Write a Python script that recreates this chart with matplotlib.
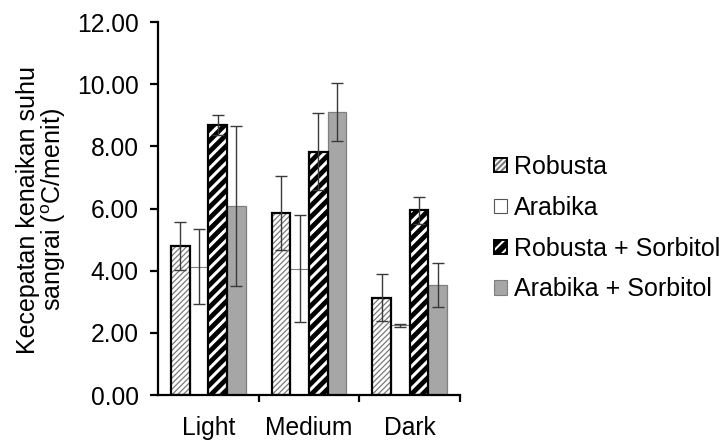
import matplotlib
matplotlib.use('Agg')
import matplotlib.pyplot as plt
from matplotlib.patches import Patch
import numpy as np

categories = ['Light', 'Medium', 'Dark']
series = ['Robusta', 'Arabika', 'Robusta + Sorbitol', 'Arabika + Sorbitol']
robusta = [4.80, 5.85, 3.13]
robusta_err = [0.77, 1.18, 0.75]
arabika = [4.13, 4.06, 2.25]
arabika_err = [1.20, 1.72, 0.05]
robusta_sorb = [8.69, 7.83, 5.94]
robusta_sorb_err = [0.33, 1.23, 0.44]
arabika_sorb = [6.09, 9.11, 3.54]
arabika_sorb_err = [2.57, 0.94, 0.72]
yticks = [0, 2, 4, 6, 8, 10, 12]

plt.rcParams['font.family'] = ['Liberation Sans', 'DejaVu Sans']
plt.rcParams['mathtext.default'] = 'regular'
FS = 18
TFS = 17.7

fig = plt.figure(figsize=(7.23, 4.40), dpi=100)
ax = fig.add_axes([158/723, 1-395/440, 302/723, (395-22)/440])

x = np.arange(len(categories))
w = 0.185
offs = [-1.5*w, -0.5*w, 0.5*w, 1.5*w]


def hlw(p, lw):
    if hasattr(p, 'set_hatch_linewidth'):
        p.set_hatch_linewidth(lw)

# Robusta: white with fine grey hatch, black border
with plt.rc_context({'hatch.linewidth': 0.9}):
    b = ax.bar(x+offs[0], robusta, w, color='white', edgecolor='#7a7a7a', hatch='//////', lw=0, zorder=2)
    for p in b:
        hlw(p, 0.9)
ax.bar(x+offs[0], robusta, w, facecolor='none', edgecolor='black', lw=1.6, zorder=3)

# Arabika: white
ax.bar(x+offs[1], arabika, w, color='white', edgecolor='#7f7f7f', lw=0.8, zorder=2)

# Robusta + Sorbitol: black with white stripes
with plt.rc_context({'hatch.linewidth': 2.2}):
    b = ax.bar(x+offs[2], robusta_sorb, w, color='black', edgecolor='white', hatch='///', lw=0, zorder=2)
    for p in b:
        hlw(p, 2.2)
ax.bar(x+offs[2], robusta_sorb, w, facecolor='none', edgecolor='black', lw=1.6, zorder=3)

# Arabika + Sorbitol: grey
ax.bar(x+offs[3], arabika_sorb, w, color='#a6a6a6', edgecolor='#7f7f7f', lw=0.9, zorder=2)

ek = dict(fmt='none', ecolor='#3a3a3a', elinewidth=1.0, capsize=4.3, capthick=1.0, zorder=5)
for o, v, e in zip(offs, [robusta, arabika, robusta_sorb, arabika_sorb],
                   [robusta_err, arabika_err, robusta_sorb_err, arabika_sorb_err]):
    ax.errorbar(x+o, v, yerr=e, **ek)

ax.set_xlim(-0.5, 2.5)
ax.set_ylim(0, 12)
ax.set_yticks(yticks)
ax.set_yticklabels([f'{t:.2f}' for t in yticks])
ax.set_xticks(x)
ax.set_xticklabels(categories)
ax.set_xticks([0.5, 1.5, 2.5], minor=True)
ax.tick_params(axis='x', which='major', length=0, pad=15, labelsize=TFS)
ax.tick_params(axis='x', which='minor', length=5, width=1.6, direction='out')
ax.tick_params(axis='y', length=6, width=1.6, direction='out', pad=8, labelsize=TFS)
for s in ['top', 'right']:
    ax.spines[s].set_visible(False)
for s in ['left', 'bottom']:
    ax.spines[s].set_linewidth(1.6)

fig.text(42/723, 1-209.5/440, 'Kecepatan kenaikan suhu\nsangrai ($^{o}$C/menit)',
         rotation=90, ha='center', va='center', fontsize=FS, linespacing=1.0,
         multialignment='center')

# legend handles
with plt.rc_context({'hatch.linewidth': 0.9}):
    h1 = (Patch(facecolor='white', edgecolor='#7a7a7a', hatch='//////', lw=0),
          Patch(facecolor='none', edgecolor='black', lw=1.4))
with plt.rc_context({'hatch.linewidth': 2.0}):
    h3 = (Patch(facecolor='black', edgecolor='white', hatch='///', lw=0),
          Patch(facecolor='none', edgecolor='black', lw=1.4))
h2 = Patch(facecolor='white', edgecolor='#555555', lw=0.8)
h4 = Patch(facecolor='#a6a6a6', edgecolor='#7f7f7f', lw=0.8)
with plt.rc_context({'hatch.linewidth': 1.5}):
    fig.legend([h1, h2, h3, h4], series, loc='upper left',
               bbox_to_anchor=(494/723, 1-155/440), frameon=False, fontsize=FS,
               handlelength=0.5, handleheight=0.5, handletextpad=0.3,
               labelspacing=0.67, borderpad=0, borderaxespad=0)

fig.savefig('out.png', dpi=100)
